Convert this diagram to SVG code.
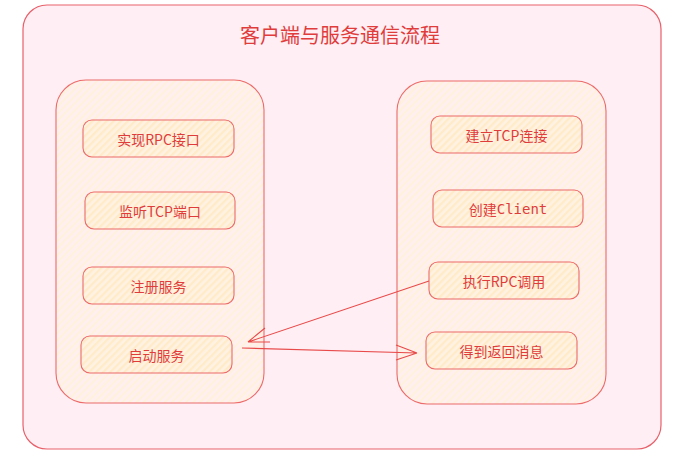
<svg xmlns="http://www.w3.org/2000/svg" width="677" height="457" viewBox="0 0 677 457">
<defs>
<pattern id="hatchC" patternUnits="userSpaceOnUse" width="5" height="5" patternTransform="rotate(45)">
<rect width="5" height="5" fill="#fff0ef"/>
<rect width="2" height="5" fill="#fff1dc"/>
</pattern>
<pattern id="hatchN" patternUnits="userSpaceOnUse" width="5" height="5" patternTransform="rotate(45)">
<rect width="5" height="5" fill="#fff2e2"/>
<rect width="2.2" height="5" fill="#ffebc8"/>
</pattern>
</defs>
<style>
.outer{fill:#ffeef3;stroke:#e8606a;stroke-width:1.2}
.cont{fill:url(#hatchC);stroke:#ec6a6a;stroke-width:1.1}
.node rect{fill:url(#hatchN);stroke:#ec6a6a;stroke-width:1.1}
.node text{font-family:"Noto Sans CJK SC","Noto Sans",sans-serif;font-size:14px;fill:#e03c3c;text-anchor:middle;dominant-baseline:central}
.mono{font-family:"DejaVu Sans Mono","Liberation Mono","Noto Sans CJK SC",monospace}
.title{font-family:"Noto Sans CJK SC","Noto Sans",sans-serif;font-size:20px;fill:#e03c3c;text-anchor:middle}
.edge{fill:none;stroke:#e84a4a;stroke-width:1.1}
</style>
<g id="frame">
<rect class="outer" x="23" y="5" width="638" height="444" rx="24"/>
<text class="title" x="340" y="43">客户端与服务通信流程</text>
</g>
<g id="server">
<rect class="cont" x="56" y="80" width="208" height="323" rx="30"/>
</g>
<g id="client">
<rect class="cont" x="397" y="81" width="209" height="323" rx="30"/>
</g>
<g id="n1" class="node"><rect x="83" y="120" width="151" height="37" rx="9"/><text x="158.5" y="138.5">实现RPC接口</text></g>
<g id="n2" class="node"><rect x="85" y="192" width="150" height="37" rx="9"/><text x="160" y="210.5">监听TCP端口</text></g>
<g id="n3" class="node"><rect x="83" y="267" width="151" height="37" rx="9"/><text x="158.5" y="285.5">注册服务</text></g>
<g id="n4" class="node"><rect x="81" y="336" width="151" height="37" rx="9"/><text x="156.5" y="354.5">启动服务</text></g>
<g id="m1" class="node"><rect x="431" y="116" width="151" height="37" rx="9"/><text x="506.5" y="134.5">建立TCP连接</text></g>
<g id="m2" class="node"><rect x="433" y="190" width="150" height="37" rx="9"/><text x="508" y="208.5">创建<tspan class="mono">Client</tspan></text></g>
<g id="m3" class="node"><rect x="429" y="262" width="150" height="37" rx="9"/><text x="504" y="280.5">执行RPC调用</text></g>
<g id="m4" class="node"><rect x="426" y="332" width="151" height="37" rx="9"/><text x="501.5" y="350.5">得到返回消息</text></g>
<g id="edges">
<path class="edge" d="M429 281 L248 342 M248 342 L265 328 M248 342 L270 342"/>
<path class="edge" d="M242 348 L417 353 M417 353 L396 345 M417 353 L396 360"/>
</g>
</svg>
